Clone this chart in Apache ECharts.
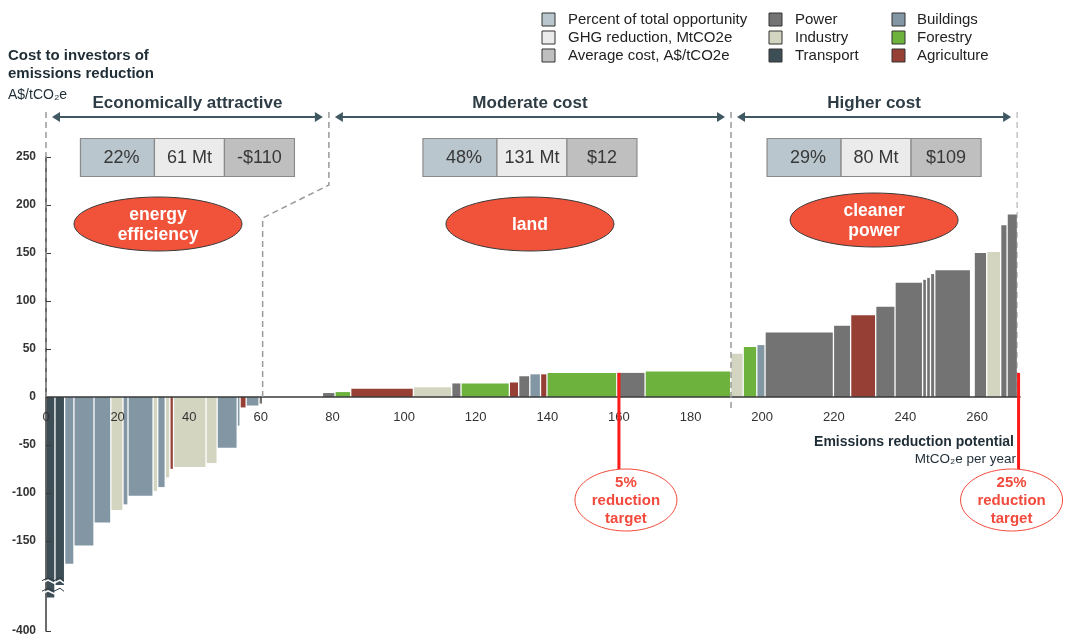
<!DOCTYPE html>
<html>
<head>
<meta charset="utf-8">
<script src="https://cdn.jsdelivr.net/npm/echarts@6/dist/echarts.min.js"></script>
<style>
html, body { margin: 0; padding: 0; background: #fff; }
#chart-macc { width: 1066px; height: 639px; }
</style>
</head>
<body>
<div id="chart-macc"></div>
<script>
const FONT = '"Liberation Sans", Arial, sans-serif';

// sectors (legend order) and their colours
const sectorNames = ['Power', 'Industry', 'Transport', 'Buildings', 'Forestry', 'Agriculture'];
const sectorCodes = ['P', 'I', 'T', 'B', 'F', 'A'];
const sectorColors = ['#737373', '#d4d5c0', '#3e4e57', '#8296a3', '#6cb23c', '#963f34'];

// abatement levers left to right: width = MtCO2e, cost = A$/tCO2e, '-' = empty stretch of axis
const widths = [
  2.5, 2.7, 2.6, 5.6, 4.7, 3.4, 1.4, 7.0, 1.3, 2.1, 1.3, 1.0, 9.1, 3.1, 5.6, 0.8, 1.7, 3.6, 1.0,
  16.7,
  3.5, 4.4, 17.5, 10.7, 2.6, 13.5, 2.6, 3.1, 3.0, 1.8, 19.5, 7.9, 23.9,
  3.5, 3.8, 2.3, 19.1, 4.8, 7.0, 5.4, 7.7, 1.1, 1.1, 1.2, 10.0, 1.0, 3.5, 3.9, 1.8, 2.9
];
const costs = [
  -209, -196, -174, -155, -131, -118, -112, -103, -98, -94, -84, -75, -73, -69, -53, -30, -11, -9, -7,
  0,
  4, 5, 8.5, 10, 14, 14, 15, 21.5, 23.5, 23.5, 25, 25, 26.5,
  45, 52, 54, 67, 74, 85, 94, 119, 122, 124, 128, 132, 0, 150, 151, 179, 190
];
const sectors = [
  'T', 'T', 'B', 'B', 'B', 'I', 'B', 'B', 'I', 'B', 'I', 'A', 'I', 'I', 'B', 'B', 'A', 'B', 'P',
  '-',
  'P', 'F', 'A', 'I', 'P', 'F', 'A', 'P', 'B', 'A', 'F', 'P', 'F',
  'I', 'F', 'B', 'P', 'P', 'A', 'P', 'P', 'P', 'P', 'P', 'P', '-', 'P', 'I', 'P', 'P'
];

// cost bands
const regionNames = ['Economically attractive', 'Moderate cost', 'Higher cost'];
const regionShare = ['22%', '48%', '29%'];
const regionVolume = ['61 Mt', '131 Mt', '80 Mt'];
const regionCost = ['-$110', '$12', '$109'];
const regionTags = ['energy\nefficiency', 'land', 'cleaner\npower'];
const regionEdges = [0, 79, 191.3, 271.2];
const jogFrom = 60.5;

// reduction targets
const targetAt = [160, 271.6];
const targetLabels = ['5%\nreduction\ntarget', '25%\nreduction\ntarget'];

// axis ticks
const xTickStep = 20;
const yTicks = [-150, -100, -50, 0, 50, 100, 150, 200, 250];
const yAxisBottom = -244;
const yBottomLabel = '-400';

const boxLegend = ['Percent of total opportunity', 'GHG reduction, MtCO2e', 'Average cost, A$/tCO2e'];
const boxColors = ['#b9c6cd', '#ebebeb', '#bfbfbf'];

let pos = 0;
const barData = widths.map((w, i) => {
  const d = [pos, pos + w, costs[i], sectorCodes.indexOf(sectors[i])];
  pos += w;
  return d;
});

const GAP = 1.3;
function renderItem(params, api) {
  const s = api.value(3);
  if (s < 0) return null;
  const a = api.coord([api.value(0), api.value(2)]);
  const b = api.coord([api.value(1), 0]);
  const left = a[0] + GAP / 2;
  const right = b[0] - GAP / 2;
  return {
    type: 'rect',
    shape: { x: left, y: Math.min(a[1], b[1]), width: Math.max(right - left, 0.9), height: Math.abs(b[1] - a[1]) },
    style: { fill: sectorColors[s] }
  };
}

const chart = echarts.init(document.getElementById('chart-macc'));
chart.setOption({
  animation: false,
  textStyle: { fontFamily: FONT },
  grid: { left: 46, right: 46, top: 157, bottom: 8, outerBoundsMode: 'none' },
  xAxis: {
    type: 'value', min: 0, max: 272, interval: xTickStep, z: 4,
    axisLine: { onZero: false, lineStyle: { color: '#3a3a3a', width: 1.5 } },
    axisTick: { show: false },
    splitLine: { show: false },
    axisLabel: {
      fontSize: 13, color: '#333', margin: 14,
      formatter: v => (v % xTickStep === 0 ? String(v) : '')
    }
  },
  yAxis: {
    type: 'value', min: yAxisBottom, max: 250, z: 4,
    axisLine: { show: true, onZero: false, lineStyle: { color: '#3a3a3a', width: 1.5 } },
    axisTick: { show: true, inside: true, length: 5, customValues: [yAxisBottom].concat(yTicks), lineStyle: { color: '#3a3a3a' } },
    axisLabel: {
      customValues: [yAxisBottom].concat(yTicks),
      formatter: v => (v === yAxisBottom ? yBottomLabel : String(v)),
      fontSize: 12, fontWeight: 'bold', color: '#333', margin: 10
    },
    splitLine: { show: false }
  },
  series: [{
    type: 'custom',
    renderItem: renderItem,
    encode: { x: [0, 1], y: 2 },
    data: barData,
    clip: true,
    z: 2
  }]
});

// lift the x axis (line and labels) up to the zero line
const zeroPx = chart.convertToPixel({ gridIndex: 0 }, [0, 0])[1];
const bottomPx = chart.convertToPixel({ gridIndex: 0 }, [0, yAxisBottom])[1];
chart.setOption({ xAxis: { offset: zeroPx - bottomPx } });

function buildGraphics() {
  const px = (x, y) => chart.convertToPixel({ gridIndex: 0 }, [x, y]);
  const g = [];
  const zeroY = px(0, 0)[1];
  const topY = 112, arrowY = 117, titleY = 103;
  const edgeX = regionEdges.map(e => px(e, 0)[0]);
  const dash = { stroke: '#9a9a9a', lineWidth: 1.5, lineDash: [6, 4] };

  // band borders
  g.push({ type: 'polyline', z: 5, shape: { points: [[edgeX[0], topY], [edgeX[0], zeroY]] }, style: dash });
  const jx = px(jogFrom, 0)[0];
  g.push({ type: 'polyline', z: 5, shape: { points: [[edgeX[1], topY], [edgeX[1], 185], [jx, 218], [jx, zeroY]] }, style: dash });
  g.push({ type: 'polyline', z: 5, shape: { points: [[edgeX[2], topY], [edgeX[2], zeroY + 12]] }, style: dash });
  g.push({ type: 'polyline', z: 1, shape: { points: [[edgeX[3], topY], [edgeX[3], zeroY]] }, style: Object.assign({}, dash, { stroke: '#c4c4c4' }) });

  const tagPos = [[158, 224], [0, 224], [0, 220]];
  const cellW = [74, 70, 70];
  regionNames.forEach((name, i) => {
    const cx = (edgeX[i] + edgeX[i + 1]) / 2;
    const xa = edgeX[i] + 6, xb = edgeX[i + 1] - 6;
    g.push({ type: 'text', style: { text: name, x: cx, y: titleY, align: 'center', verticalAlign: 'middle', font: 'bold 17px ' + FONT, fill: '#2d3c45' } });
    g.push({ type: 'line', shape: { x1: xa + 6, y1: arrowY, x2: xb - 6, y2: arrowY }, style: { stroke: '#405862', lineWidth: 2 } });
    g.push({ type: 'polygon', shape: { points: [[xa, arrowY], [xa + 8, arrowY - 5], [xa + 8, arrowY + 5]] }, style: { fill: '#405862' } });
    g.push({ type: 'polygon', shape: { points: [[xb, arrowY], [xb - 8, arrowY - 5], [xb - 8, arrowY + 5]] }, style: { fill: '#405862' } });

    // summary box
    const texts = [regionShare[i], regionVolume[i], regionCost[i]];
    let bx = cx - (cellW[0] + cellW[1] + cellW[2]) / 2;
    texts.forEach((t, k) => {
      g.push({ type: 'rect', shape: { x: bx, y: 138.5, width: cellW[k], height: 38 }, style: { fill: boxColors[k], stroke: '#8a8a8a', lineWidth: 1.2 } });
      g.push({ type: 'text', style: { text: t, x: bx + cellW[k] / 2 + (k === 0 ? 4 : 0), y: 158, align: 'center', verticalAlign: 'middle', font: '18px ' + FONT, fill: '#383838' } });
      bx += cellW[k];
    });

    // tag ellipse
    const ex = tagPos[i][0] || cx, ey = tagPos[i][1];
    g.push({ type: 'ellipse', z: 6, shape: { cx: ex, cy: ey, rx: 84, ry: 27 }, style: { fill: '#f0523a', stroke: '#3a3a3a', lineWidth: 1 } });
    g.push({ type: 'text', z: 7, style: { text: regionTags[i], x: ex, y: ey + 1, align: 'center', verticalAlign: 'middle', font: 'bold 17.5px ' + FONT, lineHeight: 20, fill: '#ffffff' } });
  });

  // targets
  const ellOff = [7, -7];
  targetAt.forEach((t, i) => {
    const p = px(t, 25);
    const ex = p[0] + ellOff[i], ey = 500;
    g.push({ type: 'line', z: 8, shape: { x1: p[0], y1: p[1], x2: p[0], y2: ey - 31 }, style: { stroke: '#ff1a1a', lineWidth: 3 } });
    g.push({ type: 'ellipse', z: 8, shape: { cx: ex, cy: ey, rx: 51, ry: 31 }, style: { fill: '#ffffff', stroke: '#f24a3c', lineWidth: 1 } });
    g.push({ type: 'text', z: 9, style: { text: targetLabels[i], x: ex, y: ey + 1, align: 'center', verticalAlign: 'middle', font: 'bold 15px ' + FONT, lineHeight: 18, fill: '#f24a3c' } });
  });

  // axis break marks on the off-scale transport bars
  [-190, -201].forEach(v => {
    const y = px(0, v)[1];
    const x0 = px(0, 0)[0] - 4;
    const pts = [0, 6, 12, 18, 22].map((d, k) => [x0 + d, y + (k % 2 ? -1.5 : 1.5)]);
    g.push({ type: 'polyline', z: 5, shape: { points: pts }, style: { stroke: '#2c3a42', lineWidth: 1, fill: null } });
    g.push({ type: 'polyline', z: 5, shape: { points: pts.map(q => [q[0], q[1] + 2.5]) }, style: { stroke: '#ffffff', lineWidth: 1.5, fill: null } });
  });

  // axis titles
  g.push({ type: 'text', style: { text: 'Cost to investors of', x: 8, y: 56, verticalAlign: 'middle', font: 'bold 15px ' + FONT, fill: '#1f2d36' } });
  g.push({ type: 'text', style: { text: 'emissions reduction', x: 8, y: 74, verticalAlign: 'middle', font: 'bold 15px ' + FONT, fill: '#1f2d36' } });
  g.push({ type: 'text', style: { text: 'A$/tCO₂e', x: 8, y: 95, verticalAlign: 'middle', font: '14px ' + FONT, fill: '#1f2d36' } });
  g.push({ type: 'text', style: { text: 'Emissions reduction potential', x: 1014, y: 442, align: 'right', verticalAlign: 'middle', font: 'bold 14px ' + FONT, fill: '#1f2d36' } });
  g.push({ type: 'text', style: { text: 'MtCO₂e per year', x: 1016, y: 459, align: 'right', verticalAlign: 'middle', font: '13.5px ' + FONT, fill: '#1f2d36' } });

  // legend
  const cols = [
    { sx: 542, tx: 568, items: boxLegend.map((t, k) => [t, boxColors[k]]) },
    { sx: 769, tx: 795, items: sectorNames.slice(0, 3).map((t, k) => [t, sectorColors[k]]) },
    { sx: 892, tx: 917, items: sectorNames.slice(3).map((t, k) => [t, sectorColors[k + 3]]) }
  ];
  cols.forEach(c => {
    c.items.forEach((it, r) => {
      const y = 20 + r * 18;
      g.push({ type: 'rect', shape: { x: c.sx, y: y - 7, width: 13, height: 13 }, style: { fill: it[1], stroke: '#333', lineWidth: 1 } });
      g.push({ type: 'text', style: { text: it[0], x: c.tx, y: y, verticalAlign: 'middle', font: '15px ' + FONT, fill: '#222' } });
    });
  });
  return g;
}

chart.setOption({ graphic: buildGraphics() });
</script>
</body>
</html>
